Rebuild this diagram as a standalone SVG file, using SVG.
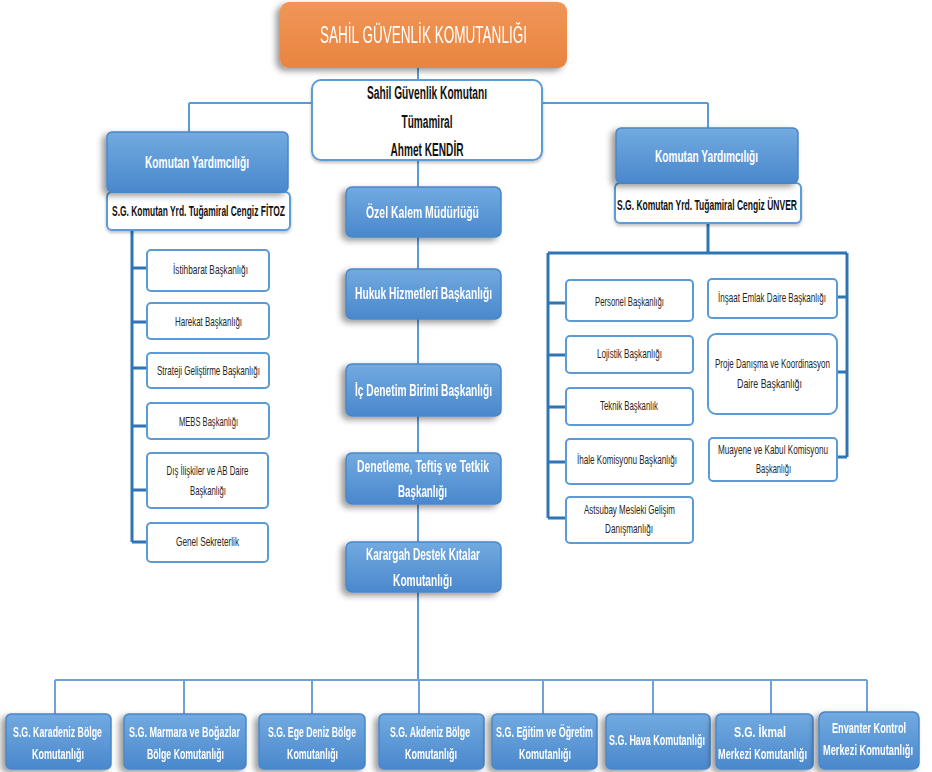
<svg xmlns="http://www.w3.org/2000/svg" width="932" height="772" viewBox="0 0 932 772">
<style>
text{font-family:"Liberation Sans",Arial,sans-serif;text-anchor:middle}
.ti{fill:#fff;font-size:13.4px}
.t{fill:#fff;font-weight:bold;font-size:10.2px}
.b{fill:#111;font-weight:bold;font-size:10.1px}
.sub{fill:#111;font-weight:bold;font-size:8.45px}
.s{fill:#262626;font-size:8px}
.bt{fill:#fff;font-weight:bold;font-size:9px}
.blue{fill:url(#gb);stroke:#4a86c8;stroke-width:1.5}
.wb{fill:#fff;stroke:#5b9bd5;stroke-width:2}
.c1{stroke:#5b9bd5;stroke-width:2;fill:none}
.c2{stroke:#2e75b6;stroke-width:3;fill:none}
.c3{stroke:#6fa3d8;stroke-width:2;fill:none}
</style>
<defs>
<linearGradient id="gb" x1="0" y1="0" x2="0" y2="1"><stop offset="0" stop-color="#72aae0"/><stop offset="1" stop-color="#4a88cd"/></linearGradient>
<linearGradient id="go" x1="0" y1="0" x2="0" y2="1"><stop offset="0" stop-color="#f09658"/><stop offset="1" stop-color="#e9843f"/></linearGradient>
<filter id="sh" x="-20%" y="-30%" width="140%" height="170%"><feDropShadow dx="-4" dy="3" stdDeviation="3" flood-color="#000" flood-opacity="0.4"/></filter>
<filter id="sh2" x="-10%" y="-20%" width="120%" height="150%"><feDropShadow dx="0" dy="2" stdDeviation="1.5" flood-color="#000" flood-opacity="0.25"/></filter>
</defs>
<g id="connectors">
<path class="c1" d="M418 68V80M189 103H312M542 103H708M189 103V132M708 103V128M418 160V680"/>
<path class="c2" d="M132 230V542M132 268H147M132 322H147M132 368H147M132 426H147M132 490H147M132 542H147"/>
<path class="c2" d="M708 223V253M548 253H847M548 253V518M847 253V457M548 303H566M548 355H566M548 407H566M548 462H566M548 518H566M837 297H847M837 372H847M837 457H847"/>
<path class="c3" d="M55 680H867M55 680V714M184 680V714M312 680V714M419 680V714M543 680V714M653 680V714M771 680V714M867 680V712"/>
</g>
<g id="title" filter="url(#sh)"><rect x="280" y="2" width="287" height="66" rx="9" fill="url(#go)"/><text class="ti" transform="matrix(1 0 0 1.85 423.5 43)" textLength="207" lengthAdjust="spacingAndGlyphs">SAHİL GÜVENLİK KOMUTANLIĞI</text></g>
<g id="commander"><rect x="312" y="80" width="230" height="80" rx="9" class="wb" filter="url(#sh2)"/><text class="b" transform="matrix(1 0 0 1.73 427 99)" textLength="120" lengthAdjust="spacingAndGlyphs">Sahil Güvenlik Komutanı</text><text class="b" transform="matrix(1 0 0 1.73 427 128)" textLength="51" lengthAdjust="spacingAndGlyphs">Tümamiral</text><text class="b" transform="matrix(1 0 0 1.73 427 156)" textLength="73" lengthAdjust="spacingAndGlyphs">Ahmet KENDİR</text></g>
<g id="yard-left"><rect x="107" y="192" width="183" height="38" rx="5" class="wb" filter="url(#sh2)"/><rect x="107" y="132" width="181" height="60" rx="5" class="blue" filter="url(#sh)"/><text class="t" transform="matrix(1 0 0 1.67 197 168)" textLength="104" lengthAdjust="spacingAndGlyphs">Komutan Yardımcılığı</text><text class="sub" transform="matrix(1 0 0 1.66 198.5 216)" textLength="173" lengthAdjust="spacingAndGlyphs">S.G. Komutan Yrd. Tuğamiral Cengiz FİTOZ</text></g>
<g id="yard-right"><rect x="615" y="183" width="186" height="40" rx="5" class="wb" filter="url(#sh2)"/><rect x="616" y="128" width="182" height="55" rx="5" class="blue" filter="url(#sh)"/><text class="t" transform="matrix(1 0 0 1.67 706.5 162)" textLength="103" lengthAdjust="spacingAndGlyphs">Komutan Yardımcılığı</text><text class="sub" transform="matrix(1 0 0 1.66 707 210)" textLength="180" lengthAdjust="spacingAndGlyphs">S.G. Komutan Yrd. Tuğamiral Cengiz ÜNVER</text></g>
<g id="istihbarat"><rect x="147" y="250" width="122" height="41" rx="4" class="wb"/><text class="s" transform="matrix(1 0 0 1.68 210.5 274)" textLength="75" lengthAdjust="spacingAndGlyphs">İstihbarat Başkanlığı</text></g>
<g id="harekat"><rect x="147" y="303" width="122" height="36" rx="4" class="wb"/><text class="s" transform="matrix(1 0 0 1.68 208.5 326)" textLength="67" lengthAdjust="spacingAndGlyphs">Harekat Başkanlığı</text></g>
<g id="strateji"><rect x="147" y="353" width="122" height="35" rx="4" class="wb"/><text class="s" transform="matrix(1 0 0 1.68 208.5 375)" textLength="103" lengthAdjust="spacingAndGlyphs">Strateji Geliştirme Başkanlığı</text></g>
<g id="mebs"><rect x="147" y="403" width="122" height="36" rx="4" class="wb"/><text class="s" transform="matrix(1 0 0 1.68 208.5 426)" textLength="59" lengthAdjust="spacingAndGlyphs">MEBS Başkanlığı</text></g>
<g id="dis"><rect x="147" y="453" width="121" height="55" rx="4" class="wb"/><text class="s" transform="matrix(1 0 0 1.68 207.5 475)" textLength="82" lengthAdjust="spacingAndGlyphs">Dış İlişkiler ve AB Daire</text><text class="s" transform="matrix(1 0 0 1.68 208 495)" textLength="36" lengthAdjust="spacingAndGlyphs">Başkanlığı</text></g>
<g id="genel"><rect x="147" y="523" width="121" height="39" rx="4" class="wb"/><text class="s" transform="matrix(1 0 0 1.68 207.5 546)" textLength="63" lengthAdjust="spacingAndGlyphs">Genel Sekreterlik</text></g>
<g id="ozel" filter="url(#sh)"><rect x="346" y="187" width="155" height="50" rx="6" class="blue"/><text class="t" transform="matrix(1 0 0 1.67 422.5 218)" textLength="113" lengthAdjust="spacingAndGlyphs">Özel Kalem Müdürlüğü</text></g>
<g id="hukuk" filter="url(#sh)"><rect x="346" y="269" width="155" height="50" rx="6" class="blue"/><text class="t" transform="matrix(1 0 0 1.67 423.5 299)" textLength="137" lengthAdjust="spacingAndGlyphs">Hukuk Hizmetleri Başkanlığı</text></g>
<g id="icdenetim" filter="url(#sh)"><rect x="346" y="364" width="155" height="52" rx="6" class="blue"/><text class="t" transform="matrix(1 0 0 1.67 423.5 396)" textLength="137" lengthAdjust="spacingAndGlyphs">İç Denetim Birimi Başkanlığı</text></g>
<g id="denetleme" filter="url(#sh)"><rect x="346" y="453" width="155" height="51" rx="6" class="blue"/><text class="t" transform="matrix(1 0 0 1.67 423 472)" textLength="132" lengthAdjust="spacingAndGlyphs">Denetleme, Teftiş ve Tetkik</text><text class="t" transform="matrix(1 0 0 1.67 422.5 497)" textLength="49" lengthAdjust="spacingAndGlyphs">Başkanlığı</text></g>
<g id="karargah" filter="url(#sh)"><rect x="346" y="542" width="155" height="50" rx="6" class="blue"/><text class="t" transform="matrix(1 0 0 1.67 423 560)" textLength="114" lengthAdjust="spacingAndGlyphs">Karargah Destek Kıtalar</text><text class="t" transform="matrix(1 0 0 1.67 422.5 586)" textLength="59" lengthAdjust="spacingAndGlyphs">Komutanlığı</text></g>
<g id="personel"><rect x="566" y="280" width="127" height="41" rx="4" class="wb"/><text class="s" transform="matrix(1 0 0 1.68 629.5 306)" textLength="69" lengthAdjust="spacingAndGlyphs">Personel Başkanlığı</text></g>
<g id="lojistik"><rect x="566" y="336" width="127" height="37" rx="4" class="wb"/><text class="s" transform="matrix(1 0 0 1.68 629.5 358)" textLength="65" lengthAdjust="spacingAndGlyphs">Lojistik Başkanlığı</text></g>
<g id="teknik"><rect x="566" y="388" width="127" height="37" rx="4" class="wb"/><text class="s" transform="matrix(1 0 0 1.68 629 410)" textLength="58" lengthAdjust="spacingAndGlyphs">Teknik Başkanlık</text></g>
<g id="ihale"><rect x="566" y="439" width="127" height="45" rx="4" class="wb"/><text class="s" transform="matrix(1 0 0 1.68 627 464)" textLength="100" lengthAdjust="spacingAndGlyphs">İhale Komisyonu Başkanlığı</text></g>
<g id="astsubay"><rect x="566" y="497" width="127" height="46" rx="4" class="wb"/><text class="s" transform="matrix(1 0 0 1.68 629.5 514)" textLength="91" lengthAdjust="spacingAndGlyphs">Astsubay Mesleki Gelişim</text><text class="s" transform="matrix(1 0 0 1.68 629 533)" textLength="48" lengthAdjust="spacingAndGlyphs">Danışmanlığı</text></g>
<g id="insaat"><rect x="708" y="279" width="129" height="39" rx="4" class="wb"/><text class="s" transform="matrix(1 0 0 1.68 772 302)" textLength="108" lengthAdjust="spacingAndGlyphs">İnşaat Emlak Daire Başkanlığı</text></g>
<g id="proje"><rect x="708" y="334" width="129" height="80" rx="8" class="wb"/><text class="s" transform="matrix(1 0 0 1.68 772.5 368)" textLength="115" lengthAdjust="spacingAndGlyphs">Proje Danışma ve Koordinasyon</text><text class="s" transform="matrix(1 0 0 1.68 769.5 388)" textLength="65" lengthAdjust="spacingAndGlyphs">Daire Başkanlığı</text></g>
<g id="muayene"><rect x="709" y="438" width="128" height="43" rx="4" class="wb"/><text class="s" transform="matrix(1 0 0 1.68 773 454)" textLength="110" lengthAdjust="spacingAndGlyphs">Muayene ve Kabul Komisyonu</text><text class="s" transform="matrix(1 0 0 1.68 773.5 473)" textLength="35" lengthAdjust="spacingAndGlyphs">Başkanlığı</text></g>
<g id="karadeniz" filter="url(#sh)"><rect x="6" y="714" width="105" height="55" rx="5" class="blue"/><text class="bt" transform="matrix(1 0 0 1.67 57.5 737)" textLength="89" lengthAdjust="spacingAndGlyphs">S.G. Karadeniz Bölge</text><text class="bt" transform="matrix(1 0 0 1.67 58 759)" textLength="52" lengthAdjust="spacingAndGlyphs">Komutanlığı</text></g>
<g id="marmara" filter="url(#sh)"><rect x="124" y="714" width="122" height="55" rx="5" class="blue"/><text class="bt" transform="matrix(1 0 0 1.67 184.5 737)" textLength="111" lengthAdjust="spacingAndGlyphs">S.G. Marmara ve Boğazlar</text><text class="bt" transform="matrix(1 0 0 1.67 185.5 759)" textLength="77" lengthAdjust="spacingAndGlyphs">Bölge Komutanlığı</text></g>
<g id="ege" filter="url(#sh)"><rect x="259" y="714" width="106" height="55" rx="5" class="blue"/><text class="bt" transform="matrix(1 0 0 1.67 312 737)" textLength="88" lengthAdjust="spacingAndGlyphs">S.G. Ege Deniz Bölge</text><text class="bt" transform="matrix(1 0 0 1.67 312.5 759)" textLength="51" lengthAdjust="spacingAndGlyphs">Komutanlığı</text></g>
<g id="akdeniz" filter="url(#sh)"><rect x="379" y="714" width="105" height="55" rx="5" class="blue"/><text class="bt" transform="matrix(1 0 0 1.67 430 737)" textLength="80" lengthAdjust="spacingAndGlyphs">S.G. Akdeniz Bölge</text><text class="bt" transform="matrix(1 0 0 1.67 431 759)" textLength="52" lengthAdjust="spacingAndGlyphs">Komutanlığı</text></g>
<g id="egitim" filter="url(#sh)"><rect x="492" y="714" width="105" height="55" rx="5" class="blue"/><text class="bt" transform="matrix(1 0 0 1.67 544.5 737)" textLength="97" lengthAdjust="spacingAndGlyphs">S.G. Eğitim ve Öğretim</text><text class="bt" transform="matrix(1 0 0 1.67 545 759)" textLength="52" lengthAdjust="spacingAndGlyphs">Komutanlığı</text></g>
<g id="hava" filter="url(#sh)"><rect x="606" y="714" width="104" height="55" rx="5" class="blue"/><text class="bt" transform="matrix(1 0 0 1.67 657 745)" textLength="96" lengthAdjust="spacingAndGlyphs">S.G. Hava Komutanlığı</text></g>
<g id="ikmal" filter="url(#sh)"><rect x="716" y="714" width="97" height="55" rx="5" class="blue"/><text class="bt" transform="matrix(1 0 0 1.67 760 737)" textLength="52" lengthAdjust="spacingAndGlyphs">S.G. İkmal</text><text class="bt" transform="matrix(1 0 0 1.67 762.5 759)" textLength="89" lengthAdjust="spacingAndGlyphs">Merkezi Komutanlığı</text></g>
<g id="envanter" filter="url(#sh)"><rect x="819" y="712" width="100" height="57" rx="6" class="blue"/><text class="bt" transform="matrix(1 0 0 1.67 869 733)" textLength="74" lengthAdjust="spacingAndGlyphs">Envanter Kontrol</text><text class="bt" transform="matrix(1 0 0 1.67 868 755)" textLength="90" lengthAdjust="spacingAndGlyphs">Merkezi Komutanlığı</text></g>
</svg>
